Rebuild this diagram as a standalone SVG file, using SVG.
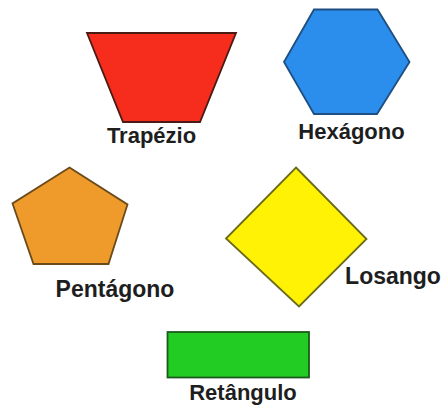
<svg xmlns="http://www.w3.org/2000/svg" width="443" height="406" viewBox="0 0 443 406">
<style>
.lbl{font-family:"Liberation Sans",Arial,sans-serif;font-weight:bold;font-size:22px;fill:#1e1e1e;text-anchor:middle}
.big{font-size:23px}
.sh{stroke-width:1.8;stroke-linejoin:miter}
</style>
<rect width="443" height="406" fill="#ffffff"/>
<g id="connectors"></g>
<g id="trapezio">
<polygon class="sh" points="87,33 236,33 200,122 123,122" fill="#F62C1C" stroke="#4a1a14"/>
<text class="lbl" x="151.5" y="143">Trapézio</text>
</g>
<g id="hexagono">
<polygon class="sh" points="284,62 314,9.5 377.5,9.5 409.5,62 377,114 314,114" fill="#2B8DEC" stroke="#1f4f80"/>
<text class="lbl" x="351.5" y="139">Hexágono</text>
</g>
<g id="pentagono">
<polygon class="sh" points="69.5,167.5 127.5,204.5 108.5,264 33.5,264 12.5,203.5" fill="#EE9B2B" stroke="#6b4a1c"/>
<text class="lbl big" x="115" y="297">Pentágono</text>
</g>
<g id="losango">
<polygon class="sh" points="296,167.5 366.5,239 299,306.5 226,238.5" fill="#FFF205" stroke="#6b6a1a"/>
<text class="lbl big" x="393" y="284">Losango</text>
</g>
<g id="retangulo">
<rect class="sh" x="167.5" y="332" width="141.5" height="45.5" fill="#22CC22" stroke="#1d5a1d"/>
<text class="lbl" x="243" y="400">Retângulo</text>
</g>
</svg>
